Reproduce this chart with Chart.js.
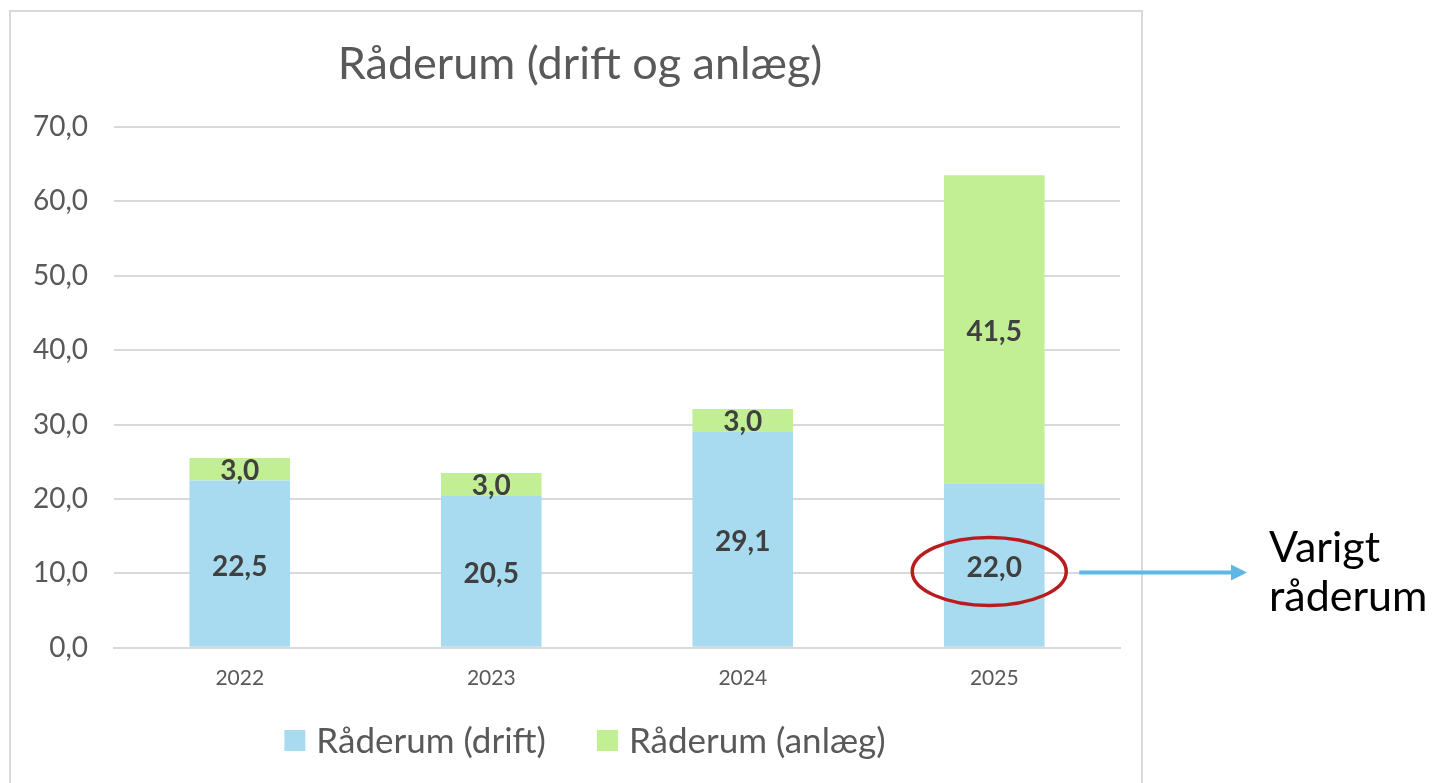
<!DOCTYPE html>
<html>
<head>
<meta charset="utf-8">
<script src="https://cdn.jsdelivr.net/npm/chart.js@4.4.1/dist/chart.umd.min.js"></script>
<style>
  html, body { margin: 0; padding: 0; background: #fff; }
  #wrap { width: 1439px; height: 783px; }
</style>
</head>
<body>
<div id="wrap"><canvas id="chart"></canvas></div>
<script>
const years = ['2022', '2023', '2024', '2025'];
const drift = [22.5, 20.5, 29.1, 22.0];
const anlaeg = [3.0, 3.0, 3.0, 41.5];
const yTicks = [0, 10, 20, 30, 40, 50, 60, 70];

const FONT = 'Lato, "Open Sans", sans-serif';
const GREY = '#595959';

const fmt = (v) => v.toFixed(1).replace('.', ',');

// Border box, title, legend, value labels, and the "Varigt råderum" callout.
const decor = {
  id: 'decor',
  beforeDraw(chart) {
    const ctx = chart.ctx;
    ctx.save();
    ctx.fillStyle = '#fff';
    ctx.fillRect(0, 0, chart.width, chart.height);
    ctx.strokeStyle = '#d9d9d9';
    ctx.lineWidth = 2;
    ctx.strokeRect(10, 11, 1132, 800);
    ctx.restore();
  },
  afterDatasetsDraw(chart) {
    const ctx = chart.ctx;
    ctx.save();
    ctx.fillStyle = GREY;
    ctx.font = '45px ' + FONT;
    ctx.textAlign = 'center';
    ctx.textBaseline = 'middle';
    ctx.fillText('Råderum (drift og anlæg)', 580, 64);

    // legend, centred under the plot like Excel does it
    ctx.font = '35px ' + FONT;
    const ds = chart.data.datasets;
    const widths = ds.map((d) => ctx.measureText(d.label).width);
    const total = widths.reduce((a, w) => a + w + 32, 0) + 51 * (ds.length - 1);
    let x = 585 - total / 2;
    ctx.textAlign = 'left';
    ds.forEach((d, i) => {
      ctx.fillStyle = d.backgroundColor;
      ctx.fillRect(x, 730, 21, 21);
      ctx.fillStyle = GREY;
      ctx.fillText(d.label, x + 32, 742);
      x += 32 + widths[i] + 51;
    });

    ctx.textAlign = 'center';
    ctx.fillStyle = '#404040';
    ctx.font = 'bold 28px ' + FONT;
    ds.forEach((d, i) => {
      chart.getDatasetMeta(i).data.forEach((bar, j) => {
        const mid = (bar.y + bar.base) / 2;
        ctx.fillText(fmt(d.data[j]), bar.x, mid + (i === 0 ? 3 : 2));
      });
    });

    // callout on the last drift bar
    const last = chart.getDatasetMeta(0).data[drift.length - 1];
    const cx = last.x - 5;
    const cy = (last.y + last.base) / 2 + 6;
    ctx.strokeStyle = '#b81d1d';
    ctx.lineWidth = 3.5;
    ctx.beginPath();
    ctx.ellipse(cx, cy, 77, 34, 0, 0, Math.PI * 2);
    ctx.stroke();

    ctx.strokeStyle = '#5eb7e4';
    ctx.fillStyle = '#5eb7e4';
    ctx.lineWidth = 4;
    ctx.beginPath();
    ctx.moveTo(cx + 90, cy + 1);
    ctx.lineTo(1234, cy + 1);
    ctx.stroke();
    ctx.beginPath();
    ctx.moveTo(1247, cy + 1);
    ctx.lineTo(1231, cy - 7);
    ctx.lineTo(1231, cy + 9);
    ctx.closePath();
    ctx.fill();

    ctx.fillStyle = '#000';
    ctx.font = '43px ' + FONT;
    ctx.textAlign = 'left';
    ctx.textBaseline = 'alphabetic';
    ctx.fillText('Varigt', 1269, 562);
    ctx.fillText('råderum', 1269, 611);
    ctx.restore();
  },
};

new Chart(document.getElementById('chart'), {
  type: 'bar',
  data: {
    labels: years,
    datasets: [
      { label: 'Råderum (drift)', data: drift, backgroundColor: '#a9dbf0' },
      { label: 'Råderum (anlæg)', data: anlaeg, backgroundColor: '#c2ef94' },
    ],
  },
  options: {
    responsive: true,
    maintainAspectRatio: false,
    animation: false,
    categoryPercentage: 1,
    barPercentage: 0.4,
    layout: { padding: { left: 10, right: 319, top: 127, bottom: 82 } },
    plugins: {
      tooltip: { enabled: false },
      legend: { display: false },
    },
    scales: {
      x: {
        stacked: true,
        grid: { display: false },
        border: { color: '#d9d9d9', width: 2 },
        ticks: { color: GREY, font: { family: FONT, size: 21 }, padding: 10 },
      },
      y: {
        stacked: true,
        min: 0,
        max: 70,
        afterBuildTicks: (s) => { s.ticks = yTicks.map((v) => ({ value: v })); },
        afterFit: (s) => { s.width = 104; },
        grid: { color: '#d9d9d9', lineWidth: 2, drawTicks: false },
        border: { display: false },
        ticks: { color: GREY, font: { family: FONT, size: 28 }, padding: 26, callback: (v) => fmt(v) },
      },
    },
  },
  plugins: [decor],
});
</script>
</body>
</html>
